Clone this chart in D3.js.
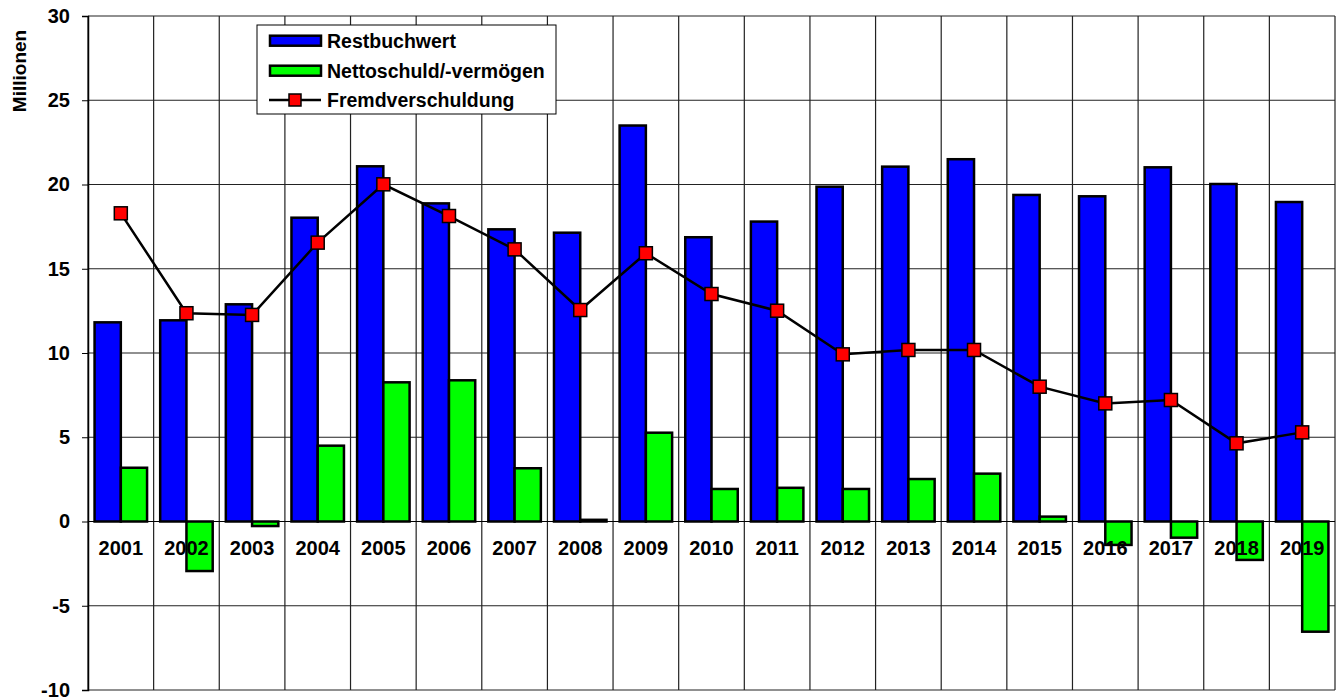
<!DOCTYPE html>
<html><head><meta charset="utf-8">
<script src="https://cdn.jsdelivr.net/npm/d3@7"></script>
<style>body{margin:0;background:#fff;} text{font-family:"Liberation Sans",Arial,sans-serif;font-weight:bold;}</style>
</head><body>
<svg id="c" width="1342" height="700"></svg>
<script>
const years = ["2001","2002","2003","2004","2005","2006","2007","2008","2009","2010","2011","2012","2013","2014","2015","2016","2017","2018","2019"];
const restbuchwert = [11.82,11.94,12.89,18.03,21.08,18.88,17.34,17.14,23.5,16.87,17.8,19.87,21.06,21.5,19.38,19.3,21.02,20.03,18.96];
const nettoschuld = [3.19,-2.94,-0.27,4.5,8.26,8.38,3.16,0.1,5.27,1.93,2.0,1.93,2.52,2.84,0.29,-1.39,-0.96,-2.28,-6.54];
const fremdverschuldung = [18.29,12.36,12.26,16.55,20.01,18.13,16.15,12.55,15.92,13.5,12.51,9.92,10.18,10.18,8.0,7.01,7.21,4.64,5.29];
const yTicks = [-10,-5,0,5,10,15,20,25,30];
const seriesNames = ["Restbuchwert","Nettoschuld/-vermögen","Fremdverschuldung"];
const colors = ["#0000ff","#00ff00","#ff0000"];

const svg = d3.select("#c");
const L = 88, R = 1335, T = 16, B = 690;
const x0 = d3.scaleBand().domain(years).range([L, R]).padding(0);
const x1 = d3.scaleBand().domain([0,1]).range([0, x0.bandwidth()]).paddingInner(0).paddingOuter(0.25);
const y = d3.scaleLinear().domain([-10, 30]).range([B, T]);

// horizontal grid
svg.append("g").selectAll("line").data(yTicks).join("line")
  .attr("x1", L).attr("x2", R).attr("y1", d => y(d)).attr("y2", d => y(d))
  .attr("stroke", "#222").attr("stroke-width", 1.2);
// vertical grid
const bounds = years.map(d => x0(d)).concat([R]);
svg.append("g").selectAll("line").data(bounds).join("line")
  .attr("x1", d => d).attr("x2", d => d).attr("y1", T).attr("y2", B)
  .attr("stroke", "#222").attr("stroke-width", 1.2);

// y axis
const yAxis = d3.axisLeft(y).tickValues(yTicks).tickSize(6).tickPadding(12).tickFormat(d => String(d));
const ga = svg.append("g").attr("transform", `translate(${L},0)`).call(yAxis);
ga.select(".domain").attr("stroke", "#000").attr("stroke-width", 1.5);
ga.selectAll(".tick line").attr("stroke", "#000");
ga.selectAll(".tick text").attr("font-size", 20).attr("font-family", "Liberation Sans, Arial").attr("font-weight", "bold").attr("fill", "#000");

svg.append("text").attr("transform", "translate(26,71) rotate(-90)").attr("text-anchor", "middle")
  .attr("font-size", 19).text("Millionen");

// bars
const bars = svg.append("g");
[restbuchwert, nettoschuld].forEach((vals, si) => {
  bars.append("g").selectAll("rect").data(vals).join("rect")
    .attr("x", (d, i) => x0(years[i]) + x1(si))
    .attr("width", x1.bandwidth())
    .attr("y", d => y(Math.max(0, d)))
    .attr("height", d => Math.abs(y(d) - y(0)))
    .attr("fill", colors[si]).attr("stroke", "#000").attr("stroke-width", 2.5);
});

// zero line
svg.append("line").attr("x1", L).attr("x2", R).attr("y1", y(0)).attr("y2", y(0)).attr("stroke", "#000").attr("stroke-width", 1);

// x labels
svg.append("g").selectAll("text").data(years).join("text")
  .attr("x", d => x0(d) + x0.bandwidth() / 2).attr("y", 555)
  .attr("text-anchor", "middle").attr("font-size", 20).text(d => d);

// line
const cx = (d, i) => x0(years[i]) + x0.bandwidth() / 2;
svg.append("path").datum(fremdverschuldung)
  .attr("d", d3.line().x(cx).y(d => y(d)))
  .attr("fill", "none").attr("stroke", "#000").attr("stroke-width", 2.5);
const ms = 13;
svg.append("g").selectAll("rect").data(fremdverschuldung).join("rect")
  .attr("x", (d, i) => cx(d, i) - ms / 2).attr("y", d => y(d) - ms / 2)
  .attr("width", ms).attr("height", ms)
  .attr("fill", colors[2]).attr("stroke", "#000").attr("stroke-width", 1.5);

// legend
const lg = svg.append("g");
lg.append("rect").attr("x", 257).attr("y", 25).attr("width", 299).attr("height", 89)
  .attr("fill", "#fff").attr("stroke", "#000").attr("stroke-width", 1);
const rowsY = [40.7, 70.7, 100];
[0, 1].forEach(i => {
  lg.append("rect").attr("x", 270).attr("y", rowsY[i] - 5).attr("width", 51).attr("height", 10)
    .attr("fill", colors[i]).attr("stroke", "#000").attr("stroke-width", 2.5);
});
lg.append("line").attr("x1", 269).attr("x2", 321).attr("y1", rowsY[2]).attr("y2", rowsY[2]).attr("stroke", "#000").attr("stroke-width", 2.5);
lg.append("rect").attr("x", 295 - 6).attr("y", rowsY[2] - 6).attr("width", 12).attr("height", 12)
  .attr("fill", colors[2]).attr("stroke", "#000").attr("stroke-width", 1.5);
seriesNames.forEach((n, i) => {
  lg.append("text").attr("x", 327).attr("y", rowsY[i] + 7).attr("font-size", 19.5).text(n);
});
</script>
</body></html>
